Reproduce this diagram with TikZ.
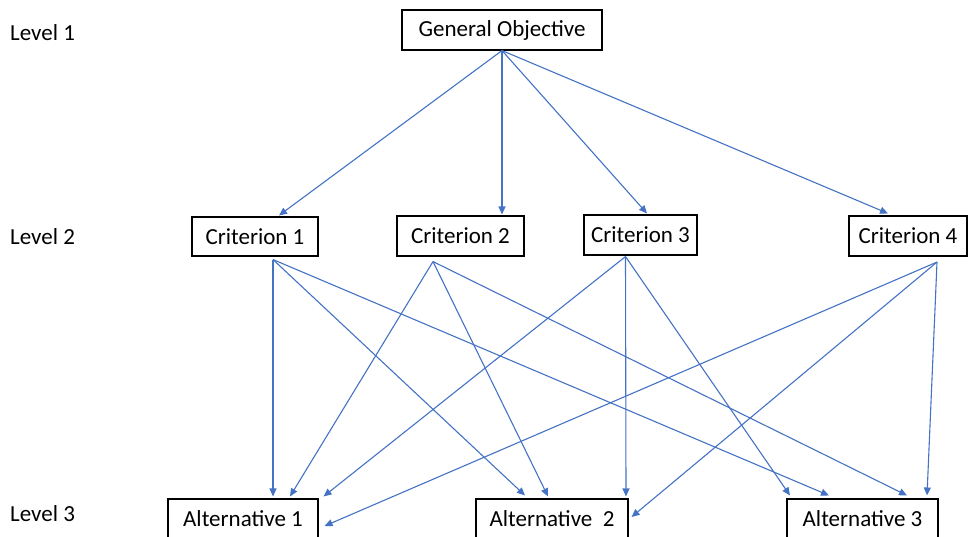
\documentclass[tikz,border=0pt]{standalone}
\usepackage{fontspec}
\setmainfont{Carlito}
\usetikzlibrary{arrows.meta}
\definecolor{linkblue}{HTML}{4472C4}
\begin{document}
\begin{tikzpicture}[
        x=1pt, y=-1pt,
        box/.style={rectangle, draw, line width=1.1pt, fill=white, minimum height=40pt, inner sep=0pt, font=\fontsize{23}{27}\selectfont},
        level/.style={anchor=base west, inner sep=0pt, font=\fontsize{23}{27}\selectfont},
        link/.style={draw=linkblue, line width=1.1pt, -{Triangle[length=8pt,width=7pt]}}
    ]
        \useasboundingbox (0,0) rectangle (968,536);

        % Level labels
        \node[level] (lev1) at (10,40) {Level 1};
        \node[level] (lev2) at (10,244) {Level 2};
        \node[level] (lev3) at (10,521) {Level 3};

        % Top node
        \node[box, minimum width=200pt] (goal) at (502,30) {General Objective};

        % Criteria
        \node[box, minimum width=126pt, minimum height=39pt] (crit1) at (255,236.5) {Criterion 1};
        \node[box, minimum width=127pt] (crit2) at (460.5,236) {Criterion 2};
        \node[box, minimum width=113pt] (crit3) at (640.5,235) {Criterion 3};
        \node[box, minimum width=118pt] (crit4) at (908,236) {Criterion 4};

        % Alternatives
        \node[box, minimum width=150pt] (alt1) at (243,519) {Alternative 1\hspace{6pt}};
        \node[box, minimum width=152pt] (alt2) at (552,519) {Alternative\ \ 2\hspace{4pt}};
        \node[box, minimum width=151pt] (alt3) at (862.5,519) {Alternative 3\hspace{10pt}};

        % Points where the lines leave the criteria
        \coordinate (c1) at ([shift={(18,3)}]crit1.south);
        \coordinate (c2) at ([shift={(-27.5,5)}]crit2.south);
        \coordinate (c3) at ([shift={(-15,1)}]crit3.south);
        \coordinate (c4) at ([shift={(29,5.5)}]crit4.south);

        % Objective to criteria
        \draw[link] (goal.south) -- ([shift={(24,-1)}]crit1.north);
        \draw[link] (goal.south) -- ([shift={(41.5,-1)}]crit2.north);
        \draw[link] (goal.south) -- ([shift={(6.5,-1)}]crit3.north);
        \draw[link] (goal.south) -- ([shift={(-20,-2)}]crit4.north);

        % Criteria to alternatives
        \draw[link] (c1) -- ([shift={(30,-2)}]alt1.north);
        \draw[link] (c1) -- ([shift={(-27,-3)}]alt2.north);
        \draw[link] (c1) -- ([shift={(-33.5,-3)}]alt3.north);

        \draw[link] (c2) -- ([shift={(47,-2)}]alt1.north);
        \draw[link] (c2) -- ([shift={(-4,-2)}]alt2.north);
        \draw[link] (c2) -- ([shift={(44.5,-3)}]alt3.north);

        \draw[link] (c3) -- ([shift={(5,-2)}]alt1.north east);
        \draw[link] (c3) -- ([shift={(74,-2)}]alt2.north);
        \draw[link] (c3) -- ([shift={(-72.5,-3)}]alt3.north);

        \draw[link] (c4) -- ([shift={(6,7)}]alt1.east);
        \draw[link] (c4) -- ([shift={(3,-2)}]alt2.east);
        \draw[link] (c4) -- ([shift={(64.5,-3)}]alt3.north);

    \end{tikzpicture}
\end{document}
